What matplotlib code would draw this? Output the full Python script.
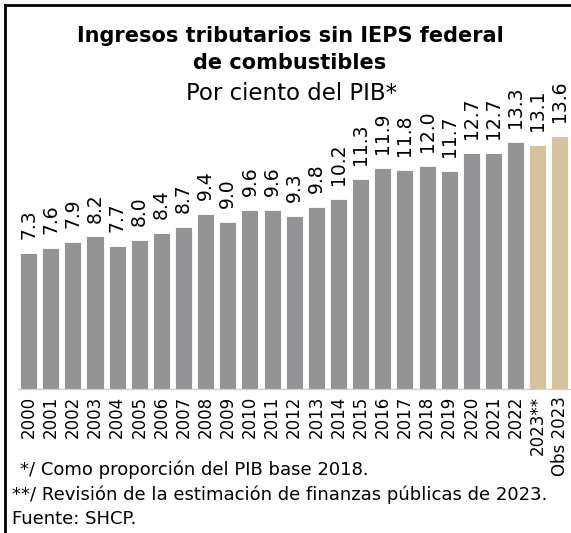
import matplotlib
matplotlib.use("Agg")
import matplotlib.pyplot as plt
from matplotlib.lines import Line2D

plt.rcParams['font.family'] = ['DejaVu Sans']

years = ['2000', '2001', '2002', '2003', '2004', '2005', '2006', '2007', '2008',
         '2009', '2010', '2011', '2012', '2013', '2014', '2015', '2016', '2017',
         '2018', '2019', '2020', '2021', '2022', '2023**', 'Obs 2023']
valores = [7.3, 7.6, 7.9, 8.2, 7.7, 8.0, 8.4, 8.7, 9.4, 9.0, 9.6, 9.6, 9.3, 9.8,
           10.2, 11.3, 11.9, 11.8, 12.0, 11.7, 12.7, 12.7, 13.3, 13.1, 13.6]
gris = '#939396'
beige = '#D5C29E'
colores = [gris] * 23 + [beige] * 2

W, H = 571, 533
fig = plt.figure(figsize=(W / 100, H / 100), dpi=100)
ax = fig.add_axes([17.5 / W, 1 - 389 / H, (571 - 17.5) / W, (389 - 110) / H])

x = range(len(valores))
ax.bar(x, valores, width=0.77, color=colores, edgecolor='white', linewidth=0.6)
for i, v in zip(x, valores):
    ax.text(i, v + 0.75, f'{v:.1f}', rotation=90, ha='center', va='bottom',
            fontsize=13.5, clip_on=False)

ax.set_xlim(-0.5, len(valores) - 0.5)
ax.set_ylim(0, 15)
ax.set_xticks(list(x))
ax.set_xticklabels(years, rotation=90, fontsize=12)
ax.tick_params(axis='x', length=0, pad=5)
ax.set_yticks([])
for s in ['left', 'right', 'top']:
    ax.spines[s].set_visible(False)
ax.spines['bottom'].set_color('#d0d0d0')
ax.spines['bottom'].set_linewidth(1)

fig.text(290 / W, 1 - 36 / H, 'Ingresos tributarios sin IEPS federal', ha='center',
         va='center', fontsize=15, fontweight='bold')
fig.text(290 / W, 1 - 63 / H, 'de combustibles', ha='center', va='center',
         fontsize=15, fontweight='bold')
fig.text(292 / W, 1 - 93 / H, 'Por ciento del PIB*', ha='center', va='center',
         fontsize=16.5)

fig.text(20 / W, 1 - 470 / H, '*/ Como proporción del PIB base 2018.',
         ha='left', va='center', fontsize=13)
fig.text(12 / W, 1 - 495 / H, '**/ Revisión de la estimación de finanzas públicas de 2023.',
         ha='left', va='center', fontsize=13)
fig.text(12 / W, 1 - 519 / H, 'Fuente: SHCP.', ha='left', va='center', fontsize=13)

# marco
fig.add_artist(Line2D([5 / W, 5 / W], [0, 1 - 5 / H], color='black', lw=2))
fig.add_artist(Line2D([5 / W, 1], [1 - 5 / H, 1 - 5 / H], color='black', lw=2))

fig.savefig('out.png', dpi=100)
